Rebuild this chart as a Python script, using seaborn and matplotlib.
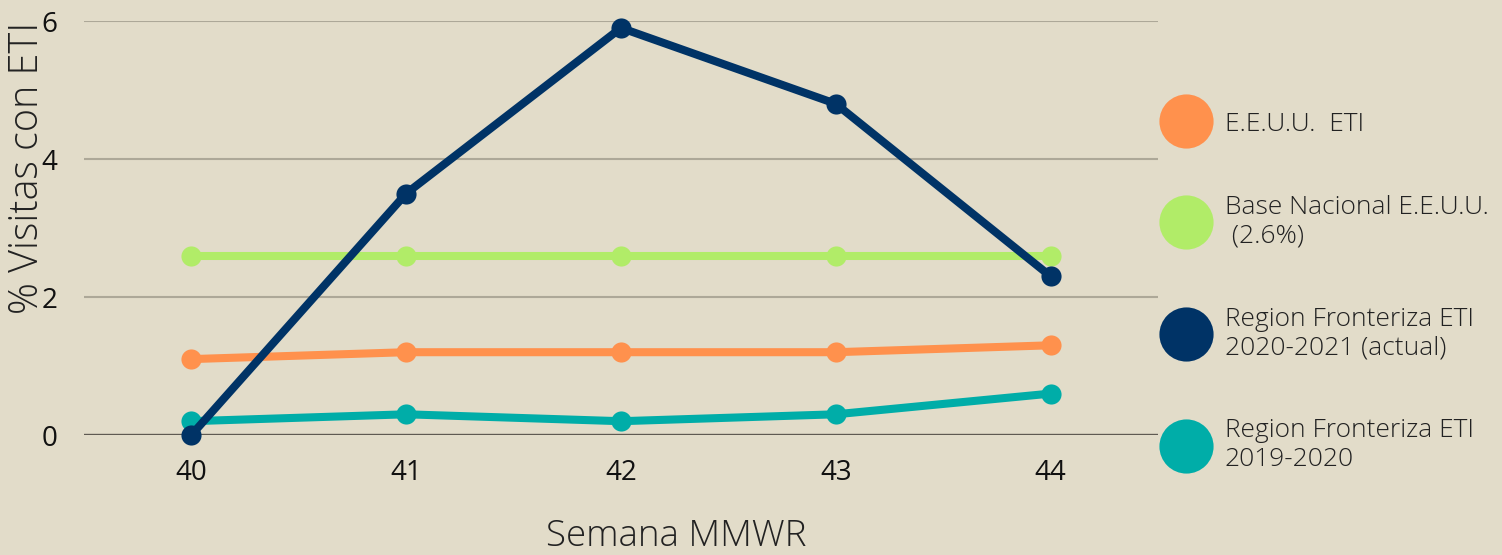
import numpy as np
import pandas as pd
import matplotlib
matplotlib.use("Agg")
import matplotlib.pyplot as plt
import seaborn as sns
from matplotlib.lines import Line2D

# ================================
# DATA
# ================================
weeks = [40, 41, 42, 43, 44]
eeuu_eti = [1.1, 1.2, 1.2, 1.2, 1.3]
base_nacional = [2.6, 2.6, 2.6, 2.6, 2.6]
frontera_2020_2021 = [0.0, 3.5, 5.9, 4.8, 2.3]
frontera_2019_2020 = [0.2, 0.3, 0.2, 0.3, 0.6]

labels = [
    "E.E.U.U.  ETI",
    "Base Nacional E.E.U.U.\n (2.6%)",
    "Region Fronteriza ETI\n2020-2021 (actual)",
    "Region Fronteriza ETI\n2019-2020",
]
colors = ["#FF914D", "#B1EC68", "#003366", "#00ADA8"]
series = [eeuu_eti, base_nacional, frontera_2020_2021, frontera_2019_2020]

y_ticks = [0, 2, 4, 6]

# ================================
# PLOT
# ================================
bg = "#E2DCC9"
sns.set_theme(style="white")
plt.rcParams["font.family"] = ["Open Sans", "DejaVu Sans"]

fig = plt.figure(figsize=(15.02, 5.55), dpi=100, facecolor=bg)
ax = fig.add_axes([84 / 1502, 1 - 435 / 555, (1158 - 84) / 1502, (435 - 21) / 555])
ax.set_facecolor(bg)

# grid lines
for t in y_ticks:
    ax.axhline(t, color="#5F5A52" if t == 0 else "#ADA898",
               lw=1.7 if t == 0 else 1.5, zorder=1)

# draw order: navy on top
draw_order = [0, 1, 3, 2]
for i in draw_order:
    sns.lineplot(x=weeks, y=series[i], ax=ax, color=colors[i], lw=5.8,
                 marker="o", markersize=14.5, markeredgewidth=0,
                 clip_on=False, zorder=3 + (i == 2))

ax.set_xlim(39.5, 44.5)
ax.set_ylim(0, 6)
ax.set_xticks(weeks)
ax.set_yticks(y_ticks)
ax.tick_params(axis="both", length=0, labelsize=20, labelcolor="#111111")
ax.tick_params(axis="x", pad=17)
ax.tick_params(axis="y", pad=19)
for s in ax.spines.values():
    s.set_visible(False)

ax.set_xlabel("Semana MMWR", fontsize=26.5, fontweight="light", color="#222222")
ax.xaxis.set_label_coords((676 - 84) / 1074, -(537 - 435) / 414, transform=ax.transAxes)
ax.xaxis.label.set_va("center")
ax.set_ylabel("% Visitas con ETI", fontsize=28.5, fontweight="light", color="#222222")
ax.yaxis.set_label_coords(-(84 - 28) / 1074, (435 - 168) / 414)
ax.yaxis.label.set_va("center")

handles = [Line2D([], [], ls="", marker="o", markersize=39, color=c, markeredgewidth=0)
           for c in colors]
leg = fig.legend(handles, labels, loc="center left", bbox_to_anchor=(1160 / 1502, 1 - 292 / 555),
                 frameon=False, fontsize=19, labelspacing=2.2, handletextpad=0.45,
                 handlelength=2.0, borderaxespad=0, borderpad=0)
for t in leg.get_texts():
    t.set_color("#222222")
    t.set_fontweight("light")

fig.savefig("out.png", dpi=100, facecolor=bg)
